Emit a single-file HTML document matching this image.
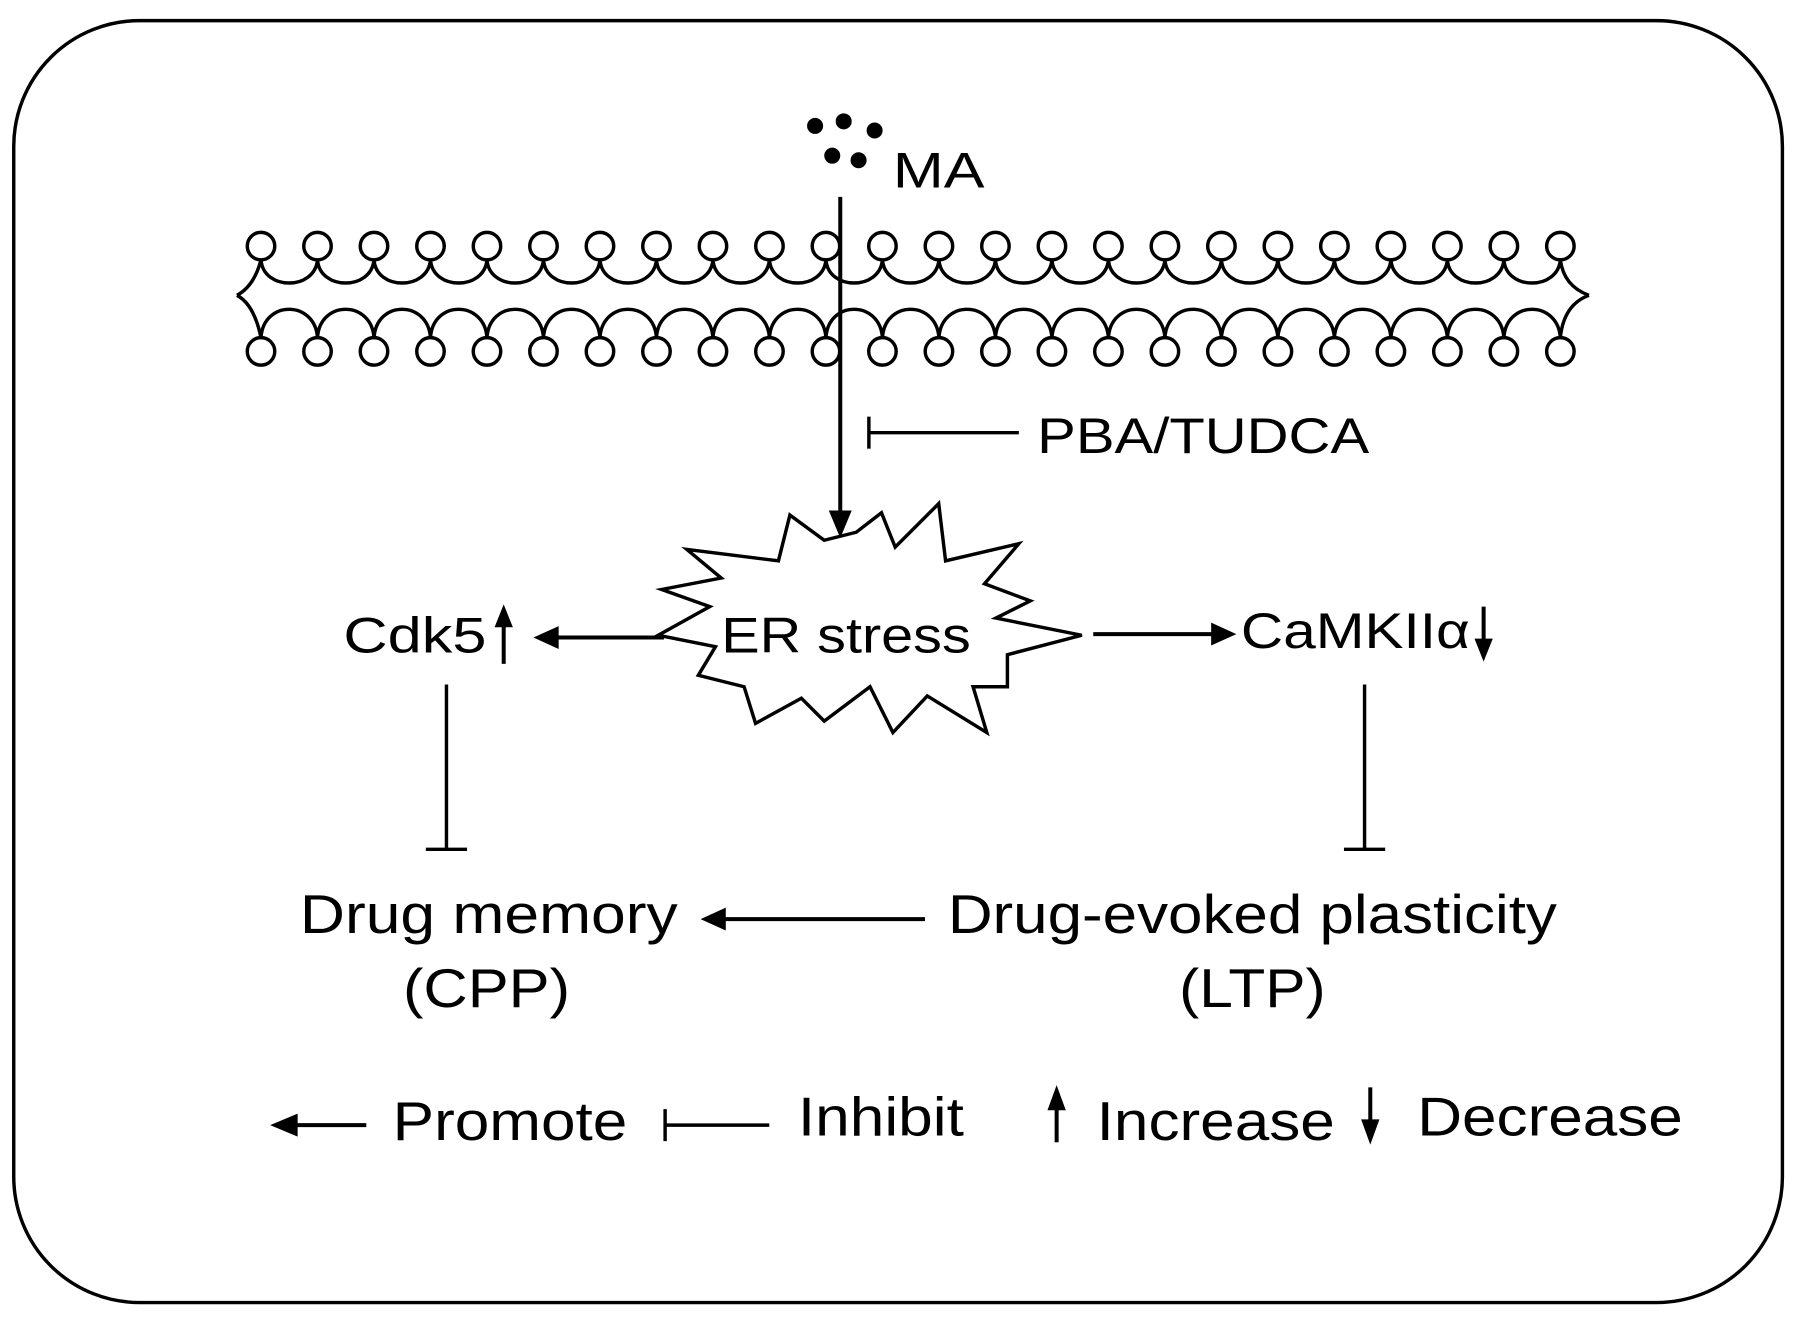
<!DOCTYPE html>
<html><head><style>html,body{margin:0;padding:0;background:#fff}svg{display:block}</style></head>
<body>
<svg width="1795" height="1322" viewBox="0 0 1568 1155" preserveAspectRatio="none" xmlns="http://www.w3.org/2000/svg" font-family="Liberation Sans, Arial, sans-serif">
<defs>
<g id="h" fill="none" stroke="#000" stroke-width="3"><circle cx="0" cy="215" r="12"/><circle cx="0" cy="307" r="12"/></g>
<path id="u" fill="none" stroke="#000" stroke-width="3" d="M0,227 C2,254 47,254 49.35,227 M0,295 C2,262 47,262 49.35,295"/>
</defs>
<rect x="12" y="18" width="1545" height="1120" rx="110" fill="none" stroke="#000" stroke-width="3"/>
<g>
<use href="#h" x="228"/><use href="#h" x="277.35"/><use href="#h" x="326.7"/><use href="#h" x="376.05"/><use href="#h" x="425.4"/><use href="#h" x="474.75"/><use href="#h" x="524.1"/><use href="#h" x="573.45"/><use href="#h" x="622.8"/><use href="#h" x="672.15"/><use href="#h" x="721.5"/><use href="#h" x="770.85"/><use href="#h" x="820.2"/><use href="#h" x="869.55"/><use href="#h" x="918.9"/><use href="#h" x="968.25"/><use href="#h" x="1017.6"/><use href="#h" x="1066.95"/><use href="#h" x="1116.3"/><use href="#h" x="1165.65"/><use href="#h" x="1215"/><use href="#h" x="1264.35"/><use href="#h" x="1313.7"/><use href="#h" x="1363.05"/>
<use href="#u" x="228"/><use href="#u" x="277.35"/><use href="#u" x="326.7"/><use href="#u" x="376.05"/><use href="#u" x="425.4"/><use href="#u" x="474.75"/><use href="#u" x="524.1"/><use href="#u" x="573.45"/><use href="#u" x="622.8"/><use href="#u" x="672.15"/><use href="#u" x="721.5"/><use href="#u" x="770.85"/><use href="#u" x="820.2"/><use href="#u" x="869.55"/><use href="#u" x="918.9"/><use href="#u" x="968.25"/><use href="#u" x="1017.6"/><use href="#u" x="1066.95"/><use href="#u" x="1116.3"/><use href="#u" x="1165.65"/><use href="#u" x="1215"/><use href="#u" x="1264.35"/><use href="#u" x="1313.7"/>
<path fill="none" stroke="#000" stroke-width="3" d="M207,258 Q222,250 228,227 M207,258 Q222,266 228,295 M1363,227 Q1366,250 1388,258 M1363,295 Q1366,266 1388,258"/>
</g>
<g fill="#000"><circle cx="712" cy="110" r="7"/><circle cx="737" cy="106" r="7"/><circle cx="764" cy="114" r="7"/><circle cx="727" cy="136" r="7"/><circle cx="750" cy="140" r="7"/></g>
<g lengthAdjust="spacingAndGlyphs">
<text x="780" y="164" font-size="44" textLength="80" lengthAdjust="spacingAndGlyphs">MA</text>
<text x="906" y="396" font-size="44" textLength="290" lengthAdjust="spacingAndGlyphs">PBA/TUDCA</text>
<text x="630" y="570" font-size="44" textLength="218" lengthAdjust="spacingAndGlyphs">ER stress</text>
<text x="300" y="570" font-size="44" textLength="125" lengthAdjust="spacingAndGlyphs">Cdk5</text>
<text x="1084" y="566" font-size="44" textLength="200" lengthAdjust="spacingAndGlyphs">CaMKIIα</text>
<text x="262" y="815" font-size="48" textLength="330" lengthAdjust="spacingAndGlyphs">Drug memory</text>
<text x="352" y="880" font-size="48" textLength="146" lengthAdjust="spacingAndGlyphs">(CPP)</text>
<text x="828" y="815" font-size="48" textLength="532" lengthAdjust="spacingAndGlyphs">Drug-evoked plasticity</text>
<text x="1030" y="880" font-size="48" textLength="128" lengthAdjust="spacingAndGlyphs">(LTP)</text>
<text x="343" y="996" font-size="48" textLength="205" lengthAdjust="spacingAndGlyphs">Promote</text>
<text x="697" y="992" font-size="48" textLength="145" lengthAdjust="spacingAndGlyphs">Inhibit</text>
<text x="958" y="996" font-size="48" textLength="208" lengthAdjust="spacingAndGlyphs">Increase</text>
<text x="1238" y="992" font-size="48" textLength="232" lengthAdjust="spacingAndGlyphs">Decrease</text>
</g>
<line x1="734" y1="172" x2="734" y2="450" stroke="#000" stroke-width="3.5"/>
<polygon points="724,446 744,446 734,470" fill="#000"/>
<line x1="760" y1="378" x2="890" y2="378" stroke="#000" stroke-width="3"/>
<line x1="759" y1="364" x2="759" y2="392" stroke="#000" stroke-width="3"/>
<polygon points="720,472 748,465 770,448 782,478 820,440 826,490 890,475 860,510 900,525 870,540 945,555 880,572 880,600 850,600 862,640 810,608 780,640 760,600 720,630 700,610 660,632 650,600 610,590 625,565 575,555 620,530 578,515 630,505 600,480 680,490 690,450" fill="none" stroke="#000" stroke-width="3"/>
<line x1="440" y1="580" x2="440" y2="545" stroke="#000" stroke-width="3.5"/><polygon points="432,548 448,548 440,528" fill="#000"/>
<line x1="580" y1="557" x2="485" y2="557" stroke="#000" stroke-width="3.5"/><polygon points="488,547 488,567 466,557" fill="#000"/>
<line x1="955" y1="554" x2="1060" y2="554" stroke="#000" stroke-width="3.5"/><polygon points="1058,544 1058,564 1080,554" fill="#000"/>
<line x1="1296" y1="530" x2="1296" y2="560" stroke="#000" stroke-width="3.5"/><polygon points="1288,558 1304,558 1296,578" fill="#000"/>
<line x1="390" y1="598" x2="390" y2="742" stroke="#000" stroke-width="3"/><line x1="372" y1="742" x2="408" y2="742" stroke="#000" stroke-width="3"/>
<line x1="1192" y1="598" x2="1192" y2="742" stroke="#000" stroke-width="3"/><line x1="1174" y1="742" x2="1210" y2="742" stroke="#000" stroke-width="3"/>
<line x1="808" y1="803" x2="630" y2="803" stroke="#000" stroke-width="3.5"/><polygon points="634,793 634,813 612,803" fill="#000"/>
<line x1="320" y1="983" x2="258" y2="983" stroke="#000" stroke-width="3.5"/><polygon points="260,973 260,993 236,983" fill="#000"/>
<line x1="582" y1="983" x2="672" y2="983" stroke="#000" stroke-width="3"/><line x1="581" y1="969" x2="581" y2="997" stroke="#000" stroke-width="3"/>
<line x1="923" y1="998" x2="923" y2="968" stroke="#000" stroke-width="3.5"/><polygon points="915,970 931,970 923,948" fill="#000"/>
<line x1="1197" y1="950" x2="1197" y2="980" stroke="#000" stroke-width="3.5"/><polygon points="1189,978 1205,978 1197,1000" fill="#000"/>
</svg>
</body></html>
